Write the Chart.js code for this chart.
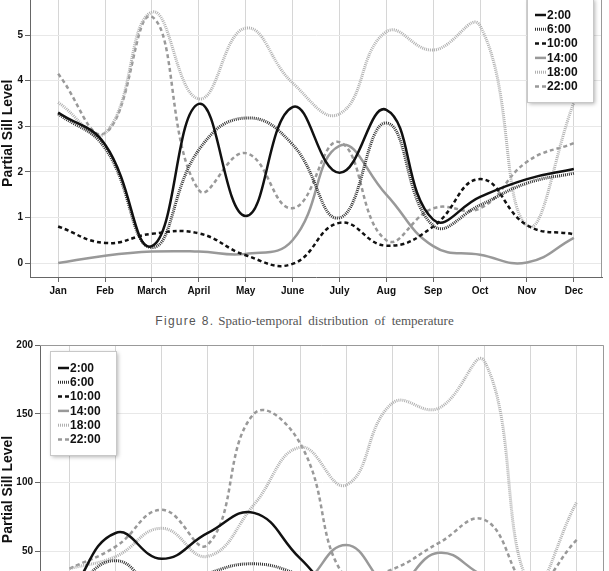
<!DOCTYPE html>
<html>
<head>
<meta charset="utf-8">
<script src="https://cdn.jsdelivr.net/npm/chart.js@4.4.0/dist/chart.umd.min.js"></script>
<style>
  html, body { margin: 0; padding: 0; background: #fff; }
  body { width: 609px; height: 571px; overflow: hidden; position: relative; }
  #tempChart { position: absolute; left: 0; top: -40px; }
  #secondChart { position: absolute; left: 0; top: 330px; }
  #caption { position: absolute; left: 0; width: 609px; top: 312px; line-height: 16px; text-align: center; color: #555; }
  #caption .fig { font-family: "Liberation Sans", Arial, sans-serif; font-size: 12px; letter-spacing: 1.3px; }
  #caption .txt { font-family: "Liberation Serif", "Times New Roman", serif; font-size: 13px; word-spacing: 3px; }
</style>
</head>
<body>
<canvas id="tempChart" width="609" height="340"></canvas>
<div id="caption"><span class="fig">Figure 8.</span> <span class="txt">Spatio-temporal distribution of temperature</span></div>
<canvas id="secondChart" width="609" height="330"></canvas>
<script>
const months = ['Jan', 'Feb', 'March', 'April', 'May', 'June', 'July', 'Aug', 'Sep', 'Oct', 'Nov', 'Dec'];
const hours = ['2:00', '6:00', '10:00', '14:00', '18:00', '22:00'];

// top chart: temperature
const temp02 = [3.30, 2.60, 0.37, 3.49, 1.03, 3.42, 1.98, 3.36, 0.95, 1.45, 1.84, 2.06];
const temp06 = [3.27, 2.52, 0.34, 2.48, 3.18, 2.60, 0.99, 3.07, 0.82, 1.27, 1.75, 1.97];
const temp10 = [0.80, 0.44, 0.64, 0.65, 0.17, -0.02, 0.88, 0.38, 0.80, 1.84, 0.83, 0.63];
const temp14 = [0.00, 0.16, 0.25, 0.25, 0.20, 0.50, 2.57, 1.50, 0.37, 0.18, 0.01, 0.55];
const temp18 = [3.52, 2.85, 5.50, 3.60, 5.15, 3.95, 3.27, 5.07, 4.67, 5.20, 0.82, 3.52];
const temp22 = [4.15, 2.85, 5.40, 1.60, 2.41, 1.20, 2.65, 0.50, 1.20, 1.20, 2.22, 2.63];
const tempTicks = [0, 1, 2, 3, 4, 5];

// second chart (cut off at the bottom)
const other02 = [18, 63.4, 44.6, 63.4, 78, 45, 15, 20, 22, 25, 20, 25];
const other06 = [20, 43.3, 20, 34, 41, 33, 20, 22, 20, 25, 22, 25];
const other10 = [15, 12, 20, 18, 22, 25, 20, 18, 22, 28, 20, 18];
const other14 = [10, 12, 15, 15, 18, 25, 54.7, 25, 49, 32, 20, 25];
const other18 = [37.5, 46.3, 66.8, 46.5, 84, 125.7, 98.3, 157.7, 154, 188, 25, 86];
const other22 = [37.5, 53.5, 80.2, 55, 150, 128.6, 30, 37, 56, 72.9, 25, 58.4];
const otherTicks = [50, 100, 150, 200];

const lineStyles = [
  { borderColor: '#111', borderWidth: 2.5, borderDash: [] },
  { borderColor: '#333', borderWidth: 3, borderDash: [1, 1] },
  { borderColor: '#111', borderWidth: 2.5, borderDash: [4, 3] },
  { borderColor: '#999', borderWidth: 2.5, borderDash: [] },
  { borderColor: '#b0b0b0', borderWidth: 3, borderDash: [1, 1] },
  { borderColor: '#999', borderWidth: 2.5, borderDash: [4, 3] }
];

const FONT = '"Liberation Sans", Arial, sans-serif';

// top and right edges of the plot frame
const frame = {
  id: 'frame',
  afterDraw(chart) {
    const { ctx, chartArea: a } = chart;
    ctx.save();
    ctx.strokeStyle = '#999';
    ctx.lineWidth = 1;
    ctx.beginPath();
    ctx.moveTo(a.left, a.top + 0.5);
    ctx.lineTo(a.right - 0.5, a.top + 0.5);
    ctx.lineTo(a.right - 0.5, a.bottom);
    ctx.stroke();
    ctx.restore();
  }
};

// legend box inside the plot, with a small shadow
const boxLegend = {
  id: 'boxLegend',
  afterDraw(chart, args, opts) {
    const { ctx } = chart;
    const x = opts.x, y = opts.y, w = 66, h = 104;
    ctx.save();
    ctx.shadowColor = 'rgba(0,0,0,0.3)';
    ctx.shadowBlur = 4;
    ctx.shadowOffsetX = 2;
    ctx.shadowOffsetY = 2;
    ctx.fillStyle = '#fff';
    ctx.fillRect(x, y, w, h);
    ctx.shadowColor = 'transparent';
    ctx.strokeStyle = '#c8c8c8';
    ctx.lineWidth = 1;
    ctx.strokeRect(x + 0.5, y + 0.5, w, h);
    ctx.font = 'bold 12px ' + FONT;
    ctx.textBaseline = 'middle';
    chart.data.datasets.forEach((ds, i) => {
      const cy = y + 17 + i * 14.3;
      ctx.beginPath();
      ctx.setLineDash(ds.borderDash);
      ctx.strokeStyle = ds.borderColor;
      ctx.lineWidth = ds.borderWidth;
      ctx.moveTo(x + 8, cy);
      ctx.lineTo(x + 19, cy);
      ctx.stroke();
      ctx.setLineDash([]);
      ctx.fillStyle = '#111';
      ctx.fillText(ds.label, x + 20, cy + 0.5);
    });
    ctx.restore();
  }
};

function makeChart(id, series, cfg) {
  const tickFont = { family: FONT, size: 10, weight: 'bold' };
  new Chart(document.getElementById(id), {
    type: 'line',
    data: {
      datasets: series.map((vals, i) => ({
        label: hours[i],
        data: vals.map((v, j) => ({ x: j, y: v })),
        ...lineStyles[i],
        pointRadius: 0,
        tension: 0.45,
        fill: false
      }))
    },
    options: {
      responsive: false,
      animation: false,
      layout: { padding: cfg.padding },
      plugins: {
        legend: { display: false },
        tooltip: { enabled: false },
        boxLegend: cfg.legend
      },
      scales: {
        x: {
          type: 'linear',
          min: cfg.xMin,
          max: cfg.xMax,
          afterBuildTicks: s => { s.ticks = months.map((m, i) => ({ value: i })); },
          afterFit: s => { s.height = 20; },
          grid: { color: '#d6d6d6', tickColor: '#666', tickLength: 5 },
          border: { color: '#666' },
          ticks: { callback: v => months[v], font: tickFont, color: '#111', padding: 3, maxRotation: 0, autoSkip: false }
        },
        y: {
          min: cfg.yMin,
          max: cfg.yMax,
          afterBuildTicks: s => { s.ticks = cfg.yTicks.map(v => ({ value: v })); },
          afterFit: s => { s.width = cfg.yWidth; },
          grid: { color: '#e8e8e8', tickColor: '#666', tickLength: 5 },
          border: { color: '#666' },
          ticks: { font: tickFont, color: '#111', padding: 2 },
          title: { display: true, text: 'Partial Sill Level', color: '#111', padding: 0,
                   font: { family: FONT, size: 14, weight: 'bold' } }
        }
      }
    },
    plugins: [frame, boxLegend]
  });
}

makeChart('tempChart', [temp02, temp06, temp10, temp14, temp18, temp22], {
  padding: { top: 29.4, right: 7, bottom: 3, left: 0 },
  xMin: -0.6, xMax: 11.6,
  yMin: -0.307, yMax: 6, yTicks: tempTicks, yWidth: 30,
  legend: { x: 527, y: 38 }
});

makeChart('secondChart', [other02, other06, other10, other14, other18, other22], {
  padding: { top: 15, right: 5, bottom: 6, left: 0 },
  xMin: -0.64, xMax: 11.59,
  yMin: -10, yMax: 200, yTicks: otherTicks, yWidth: 40,
  legend: { x: 50, y: 21 }
});
</script>
</body>
</html>
